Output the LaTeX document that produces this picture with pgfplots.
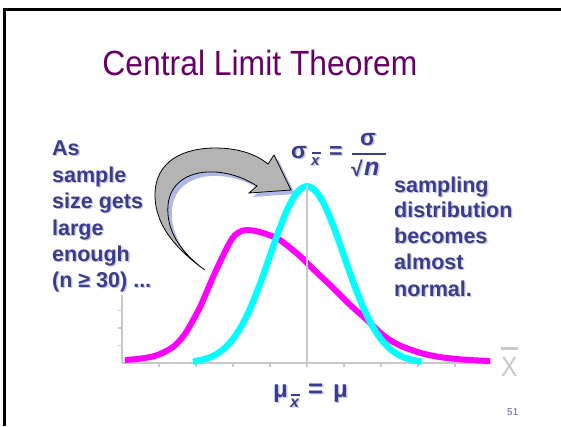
\documentclass[border=0pt]{standalone}
\usepackage{fontspec}
\setmainfont{Liberation Sans}
\usepackage{pgfplots}
\pgfplotsset{compat=1.18}
\definecolor{mag}{RGB}{255,0,255}
\definecolor{cyn}{RGB}{0,255,255}
\definecolor{axg}{RGB}{200,200,200}
\definecolor{txt}{RGB}{60,60,140}
\definecolor{shd}{RGB}{195,198,228}
\definecolor{ttl}{RGB}{102,0,102}
\definecolor{arrg}{RGB}{180,180,180}
\definecolor{arrs}{RGB}{176,184,232}
\newcommand{\bigf}{\fontsize{21.5bp}{26bp}\selectfont\bfseries}
\newcommand{\sh}[4]{%
  \node[anchor=base west,inner sep=0pt,font=#3] at (#1,#2)
   {\rlap{\hspace{1.3bp}\raisebox{-1.3bp}{\textcolor{shd}{#4}}}\textcolor{txt}{#4}};}
\begin{document}
\begin{tikzpicture}
\begin{scope}[x=1bp,y=-1bp]
\path[use as bounding box] (0,0) rectangle (561,426);
% slide border
\draw[line width=2.5bp,black] (4.5,426) -- (4.5,9.5) -- (561,9.5);
% title
\node[anchor=base,inner sep=0pt,text=ttl,xscale=0.91,font=\fontsize{35bp}{40bp}\selectfont] at (260,75) {Central Limit Theorem};
% left text
\sh{52}{155}{\bigf}{As}
\sh{52}{182}{\bigf}{sample}
\sh{52}{208}{\bigf}{size gets}
\sh{52}{235}{\bigf}{large}
\sh{52}{261}{\bigf}{enough}
\sh{52}{287}{\bigf}{(n ≥ 30) ...}
% right text
\sh{394}{192}{\bigf}{sampling}
\sh{394}{217}{\bigf}{distribution}
\sh{394}{243}{\bigf}{becomes}
\sh{394}{269}{\bigf}{almost}
\sh{394}{296}{\bigf}{normal.}
% sigma formula
\sh{291}{158}{\fontsize{23bp}{26bp}\selectfont\bfseries}{σ}
\sh{311}{165}{\fontsize{15bp}{18bp}\selectfont\bfseries\itshape}{x}
\draw[txt,line width=1.5bp] (312,153) -- (321,153);
\sh{329}{158}{\fontsize{23bp}{26bp}\selectfont\bfseries}{=}
\sh{360}{145}{\fontsize{23bp}{26bp}\selectfont\bfseries}{σ}
\draw[txt,line width=2bp] (352,154) -- (386,154);
\sh{351}{176}{\fontsize{21bp}{26bp}\selectfont\bfseries}{√}
\sh{364}{175}{\fontsize{25bp}{28bp}\selectfont\bfseries\itshape}{n}
% mu formula
\sh{273}{397}{\fontsize{24bp}{28bp}\selectfont\bfseries}{μ}
\sh{290}{407}{\fontsize{16bp}{18bp}\selectfont\bfseries\itshape}{x}
\draw[txt,line width=1.5bp] (291,395) -- (300,395);
\sh{308}{397}{\fontsize{26bp}{30bp}\selectfont\bfseries}{=}
\sh{333}{397}{\fontsize{24bp}{28bp}\selectfont\bfseries}{μ}
% page number
\node[anchor=base west,inner sep=0pt,text=txt!80,font=\fontsize{10bp}{12bp}\selectfont] at (507,415) {51};
% X bar label
\node[anchor=base west,inner sep=0pt,text=axg,xscale=0.88,font=\fontsize{28bp}{30bp}\selectfont] at (501,376) {X};
\draw[axg,line width=3bp] (501,348) -- (518,348);
% curved arrow: shadow then body
\fill[arrs,shift={(4,4)}] (205,270) .. controls (180,252) and (155,228) .. (155,195)
 .. controls (155,160) and (185,148) .. (215,148)
 .. controls (240,148) and (257,155) .. (268,164)
 -- (274,155) -- (291,190) -- (249,193) -- (257,186)
 .. controls (243,177) and (225,171) .. (207,172)
 .. controls (188,173) and (170,183) .. (168,205)
 .. controls (166,230) and (180,252) .. (205,270) -- cycle;
\filldraw[fill=arrg,draw=black,line width=0.8bp] (205,270) .. controls (180,252) and (155,228) .. (155,195)
 .. controls (155,160) and (185,148) .. (215,148)
 .. controls (240,148) and (257,155) .. (268,164)
 -- (274,155) -- (291,190) -- (249,193) -- (257,186)
 .. controls (243,177) and (225,171) .. (207,172)
 .. controls (188,173) and (170,183) .. (168,205)
 .. controls (166,230) and (180,252) .. (205,270) -- cycle;
\end{scope}
\begin{axis}[at={(122bp,-363bp)}, anchor=south west, scale only axis,
  width=370bp, height=68.25bp, xmin=0, xmax=10, ymin=0, ymax=3.9, clip=false,
  axis x line=bottom, axis y line=left,
  axis line style={draw=axg, line width=2.5bp, -},
  xtick={1,...,9}, ytick={1,2,3}, xticklabels={}, yticklabels={},
  tick align=outside, major tick length=4bp,
  tick style={draw=axg, line width=1.2bp}]
\addplot[mag, line width=6bp, smooth] coordinates {
(0.08,0.17) (0.5,0.25) (0.84,0.38) (1.1,0.58) (1.38,0.92) (1.6,1.38)
(1.76,1.85) (2.11,3.2) (2.46,4.91) (2.84,6.6) (3.05,7.3) (3.3,7.58)
(3.6,7.55) (3.95,7.33) (4.27,7.03) (4.81,6.11) (5.25,5.2)
(5.70,4.3) (6.15,3.35) (6.62,2.46) (7.05,1.6) (7.4,1.12) (7.70,0.84)
(8.1,0.56) (8.59,0.34) (9.2,0.2) (9.95,0.11)};
\addplot[cyn, line width=6.5bp, smooth] coordinates {
(1.92,0.08) (2.0,0.11) (2.25,0.23) (2.5,0.44) (2.75,0.80) (3.0,1.37)
(3.25,2.18) (3.5,3.28) (3.75,4.62) (4.0,6.13) (4.25,7.62) (4.5,8.91)
(4.75,9.79) (5.0,10.1) (5.25,9.79) (5.5,8.91) (5.75,7.62) (6.0,6.13)
(6.25,4.62) (6.5,3.28) (6.75,2.18) (7.0,1.37) (7.25,0.80) (7.5,0.44)
(7.75,0.23) (8.0,0.11) (8.1,0.08)};
\draw[axg, line width=1.5bp] (axis cs:5,0) -- (axis cs:5,10.2);
\end{axis}
\end{tikzpicture}
\end{document}
